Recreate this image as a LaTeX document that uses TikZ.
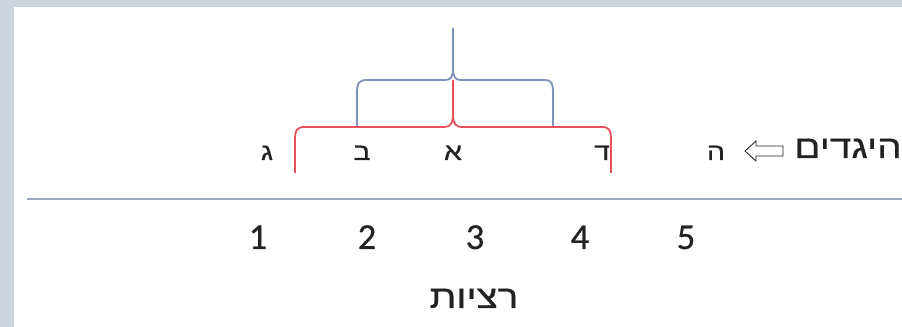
\documentclass[tikz,border=0pt]{standalone}
\usepackage{fontspec}
\setmainfont{Carlito}
\newfontfamily\numfont[FakeBold=0.6]{Carlito}
\newfontfamily\hebfont[Script=Hebrew,FakeBold=0.6,FakeStretch=1.2]{Liberation Sans}
\TeXXeTstate=1
\usepackage{xcolor}
\definecolor{bracered}{HTML}{E8505B}
\definecolor{braceblue}{HTML}{7F93B8}
\definecolor{axisgray}{HTML}{9AA9BD}
\definecolor{edge}{HTML}{CDD4DE}
\definecolor{ink}{HTML}{222222}
\usetikzlibrary{positioning}

\begin{document}
\begin{tikzpicture}[x=0.025cm,y=-0.025cm,
  num/.style={font=\numfont\fontsize{26}{28}\selectfont,text=ink,inner sep=0pt},
  heb/.style={font=\hebfont\fontsize{17}{19}\selectfont,text=ink,inner sep=0pt},
  hebbig/.style={font=\hebfont\fontsize{23}{25}\selectfont,text=ink,inner sep=0pt},
  redbr/.style={draw=bracered,line width=1.3pt},
  bluebr/.style={draw=braceblue,line width=1.3pt},
  axis/.style={draw=axisgray,line width=1.8pt}]
\useasboundingbox (0,0) rectangle (902,327);
\fill[edge] (0,0) rectangle (902,327);
\fill[white] (14,7) rectangle (902,327);
% letters above the axis
\node[heb,anchor=base] (gimel) at (267,160) {\beginR ג\endR};
\node[heb,anchor=base] (bet) at (362,160) {\beginR ב\endR};
\node[heb,anchor=base] (alef) at (453,160) {\beginR א\endR};
\node[heb,anchor=base] (dalet) at (602,160) {\beginR ד\endR};
\node[heb,anchor=base] (he) at (716,160) {\beginR ה\endR};
\node[hebbig,anchor=base east] (higad) at (902,158) {\beginR היגדים\endR};
\draw[ink,line width=0.6pt] (745,151) -- (756,141) -- (756,146) -- (783,146)
  -- (783,156) -- (756,156) -- (756,161) -- cycle;
% braces
\draw[redbr] (295,173) -- (295,140) .. controls (295,130) and (297,127) .. (305,127)
  -- (444,127) .. controls (450,127) and (453,124) .. (453,115) -- (453,80);
\draw[redbr] (453,115) .. controls (453,124) and (456,127) .. (462,127)
  -- (602,127) .. controls (609,127) and (611,130) .. (611,140) -- (611,173);
\draw[bluebr] (357,126) -- (357,93) .. controls (357,83) and (359,80) .. (367,80)
  -- (445,80) .. controls (451,80) and (453,77) .. (453,68) -- (453,28);
\draw[bluebr] (453,68) .. controls (453,77) and (455,80) .. (461,80)
  -- (545,80) .. controls (551,80) and (553,83) .. (553,93) -- (553,126);
% axis and numbers
\draw[axis] (27,199) -- (902,199);
\foreach \n/\x in {1/258,2/367,3/475,4/580,5/686}
  \node[num,anchor=base] (n\n) at (\x,249) {\n};
\node[hebbig,anchor=base] (ratzon) at (474,308) {\beginR רציות\endR};
\end{tikzpicture}
\end{document}
